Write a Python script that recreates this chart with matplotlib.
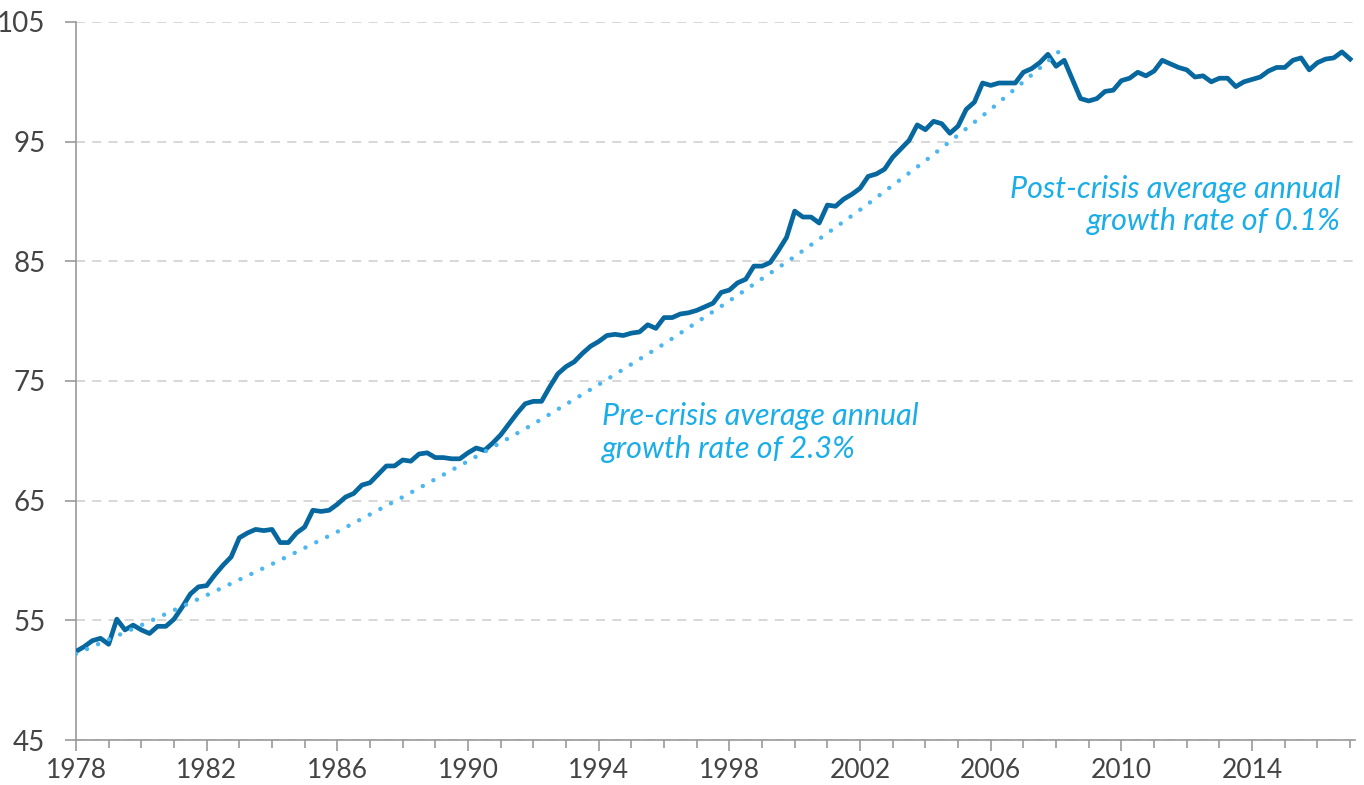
import numpy as np
import matplotlib.pyplot as plt

# quarterly index values, 1978Q1 .. 2017Q1
start_year = 1978
index_values = [
    52.4, 52.8, 53.3, 53.5, 53.0, 55.1, 54.2, 54.6,   # 1978-1979
    54.2, 53.9, 54.5, 54.5, 55.1, 56.1, 57.2, 57.8,   # 1980-1981
    57.9, 58.8, 59.6, 60.3, 61.9, 62.3, 62.6, 62.5,   # 1982-1983
    62.6, 61.5, 61.5, 62.3, 62.8, 64.2, 64.1, 64.2,   # 1984-1985
    64.7, 65.3, 65.6, 66.3, 66.5, 67.2, 67.9, 67.9,   # 1986-1987
    68.4, 68.3, 68.9, 69.0, 68.6, 68.6, 68.5, 68.5,   # 1988-1989
    69.0, 69.4, 69.2, 69.8, 70.5, 71.4, 72.3, 73.1,   # 1990-1991
    73.3, 73.3, 74.5, 75.6, 76.2, 76.6, 77.3, 77.9,   # 1992-1993
    78.3, 78.8, 78.9, 78.8, 79.0, 79.1, 79.7, 79.4,   # 1994-1995
    80.3, 80.3, 80.6, 80.7, 80.9, 81.2, 81.5, 82.4,   # 1996-1997
    82.6, 83.2, 83.5, 84.6, 84.6, 84.9, 85.9, 87.0,   # 1998-1999
    89.2, 88.7, 88.7, 88.2, 89.7, 89.6, 90.2, 90.6,   # 2000-2001
    91.1, 92.1, 92.3, 92.7, 93.7, 94.4, 95.1, 96.4,   # 2002-2003
    96.0, 96.7, 96.5, 95.7, 96.3, 97.7, 98.3, 99.9,   # 2004-2005
    99.7, 99.9, 99.9, 99.9, 100.8, 101.1, 101.6, 102.3,  # 2006-2007
    101.3, 101.8, 100.2, 98.6, 98.4, 98.6, 99.2, 99.3,   # 2008-2009
    100.1, 100.3, 100.8, 100.5, 100.9, 101.8, 101.5, 101.2,  # 2010-2011
    101.0, 100.4, 100.5, 100.0, 100.3, 100.3, 99.6, 100.0,   # 2012-2013
    100.2, 100.4, 100.9, 101.2, 101.2, 101.8, 102.0, 101.0,  # 2014-2015
    101.6, 101.9, 102.0, 102.5, 101.9,                       # 2016-2017Q1
]
quarters = start_year + np.arange(len(index_values)) / 4

# pre-crisis trend line
trend_years = [1978, 1980, 1982, 1984, 1986, 1988, 1990, 1992, 1994,
               1996, 1998, 2000, 2002, 2004, 2006, 2008, 2008.3]
trend_values = [52.2, 54.6, 57.1, 59.7, 62.4, 65.3, 68.3, 71.4, 74.7,
                78.1, 81.7, 85.4, 89.3, 93.4, 97.7, 102.3, 103.1]

x_ticks = list(range(1978, 2017, 4))
y_ticks = [45, 55, 65, 75, 85, 95, 105]

pre_label = 'Pre-crisis average annual\ngrowth rate of 2.3%'
post_label = 'Post-crisis average annual\ngrowth rate of 0.1%'

plt.rcParams['font.family'] = ['Lato', 'DejaVu Sans']

fig = plt.figure(figsize=(13.64, 7.85), dpi=100)
ax = fig.add_axes([0.0557, 0.0573, 0.9377, 0.9147])

ax.plot(quarters, index_values, color='#07679f', linewidth=3.4,
        solid_joinstyle='round', zorder=3)
ax.plot(trend_years, trend_values, color='#4cb6f0', linewidth=3.2,
        linestyle=(0, (0.01, 2.7)), dash_capstyle='round', zorder=4)

ax.set_xlim(1978, 2017.15)
ax.set_ylim(45, 105)
ax.set_xticks(x_ticks)
ax.set_xticks(range(1978, 2018), minor=True)
ax.set_yticks(y_ticks)

ax.grid(axis='y', color='#d4d4d4', linestyle=(0, (5, 4)), linewidth=1.3)
ax.set_axisbelow(True)
for side in ['top', 'right']:
    ax.spines[side].set_visible(False)
for side in ['left', 'bottom']:
    ax.spines[side].set_color('#9a9a9a')
    ax.spines[side].set_linewidth(1.2)

ax.tick_params(axis='x', which='major', length=8, width=1.2, color='#9a9a9a',
               labelsize=19, labelcolor='#444444', pad=5)
ax.tick_params(axis='x', which='minor', length=6, width=1.2, color='#9a9a9a')
ax.tick_params(axis='y', length=8, width=1.2, color='#9a9a9a',
               labelsize=20, labelcolor='#444444', pad=14)

ax.text(1994.1, 70.7, pre_label, fontsize=22, style='italic', color='#1aade8',
        ha='left', va='center', linespacing=1.2)
ax.text(2016.7, 89.7, post_label, fontsize=22, style='italic', color='#1aade8',
        ha='right', va='center', linespacing=1.2, multialignment='right')

fig.savefig('out.png', dpi=100)
